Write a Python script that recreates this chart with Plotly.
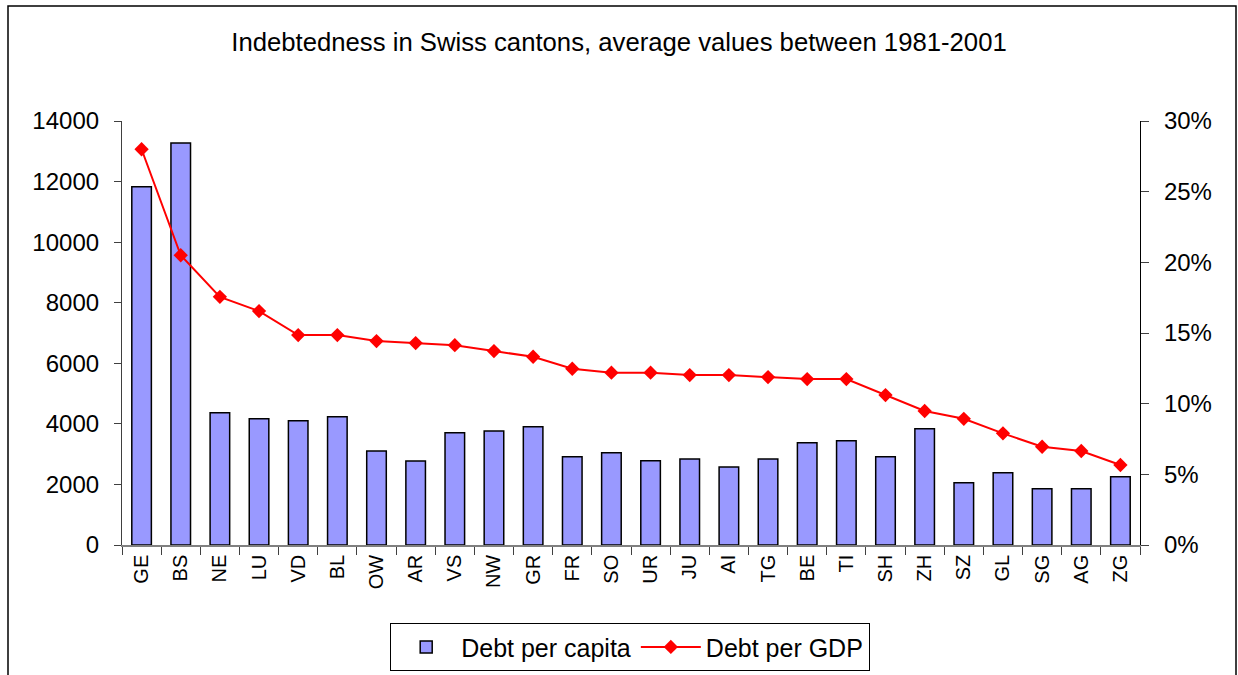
import plotly.graph_objects as go

cantons = ["GE", "BS", "NE", "LU", "VD", "BL", "OW", "AR", "VS", "NW", "GR", "FR", "SO",
           "UR", "JU", "AI", "TG", "BE", "TI", "SH", "ZH", "SZ", "GL", "SG", "AG", "ZG"]
debt_per_capita = [11825, 13277, 4366, 4168, 4102, 4234, 3102, 2772, 3706, 3762, 3904, 2914, 3046,
                   2782, 2838, 2574, 2838, 3376, 3442, 2914, 3838, 2056, 2386, 1858, 1858, 2254]
debt_per_gdp = [0.280, 0.205, 0.1756, 0.1655, 0.1485, 0.1485, 0.1443, 0.1429, 0.1414, 0.1372,
                0.1332, 0.1247, 0.1219, 0.1219, 0.1202, 0.1202, 0.1188, 0.1174, 0.1174, 0.1061,
                0.0948, 0.0893, 0.079, 0.0695, 0.0665, 0.0566]

title_text = "Indebtedness in Swiss cantons, average values between 1981-2001"
FONT = "Liberation Sans, Arial, sans-serif"

# plot area in pixels
L, R, T, B = 122, 1140, 121, 545
W, H = 1238, 675

fig = go.Figure()
fig.add_trace(go.Bar(
    x=cantons, y=debt_per_capita, name="Debt per capita",
    marker=dict(color="#9999FF", line=dict(color="#000000", width=1.5)),
    yaxis="y",
))
fig.add_trace(go.Scatter(
    x=cantons, y=debt_per_gdp, name="Debt per GDP", mode="lines+markers",
    line=dict(color="#FF0000", width=2),
    marker=dict(symbol="diamond", size=11, color="#FF0000"),
    yaxis="y2",
))

def px_x(p):
    return (p - L) / (R - L)

def px_y(q):
    return (B - q) / (B - T)

fig.update_layout(
    width=W, height=H,
    margin=dict(l=L, r=W - R, t=T, b=H - B, autoexpand=False),
    paper_bgcolor="white", plot_bgcolor="white",
    font=dict(family=FONT, size=22, color="black"),
    title=dict(text=title_text, x=0.5, xanchor="center", y=1 - 42 / H, yanchor="middle",
               font=dict(family=FONT, size=25.7, color="black")),
    bargap=0.5,
    showlegend=True,
    legend=dict(orientation="h", x=px_x(630), xanchor="center", y=px_y(623), yanchor="top",
                bordercolor="#000000", borderwidth=1.2, bgcolor="white",
                font=dict(family=FONT, size=25, color="black"),
                itemwidth=60, tracegroupgap=0),
    xaxis=dict(
        range=[-0.5, len(cantons) - 0.5], autorange=False,
        showline=True, linecolor="#808080", linewidth=1.5,
        ticks="outside", tickson="boundaries", ticklen=8, tickcolor="#404040",
        tickangle=-90, tickfont=dict(family=FONT, size=20, color="black"),
        showgrid=False, zeroline=False,
    ),
    yaxis=dict(
        range=[0, 14000], dtick=2000, tick0=0, tickformat="d",
        showline=True, linecolor="#404040", linewidth=1.2,
        ticks="outside", ticklen=7, tickcolor="#404040",
        tickfont=dict(family=FONT, size=24, color="black"),
        ticklabelstandoff=10,
        showgrid=False, zeroline=False,
    ),
    yaxis2=dict(
        range=[0, 0.30], dtick=0.05, tick0=0, tickformat=".0%",
        overlaying="y", side="right", anchor="x",
        showline=True, linecolor="#000000", linewidth=1.2,
        ticks="outside", ticklen=8, tickcolor="#404040",
        tickfont=dict(family=FONT, size=24, color="black"),
        ticklabelstandoff=10,
        showgrid=False, zeroline=False,
    ),
    shapes=[dict(type="rect", xref="paper", yref="paper",
                 x0=px_x(8), x1=px_x(1236), y0=px_y(700), y1=px_y(6),
                 line=dict(color="#000000", width=1.5), fillcolor="rgba(0,0,0,0)", layer="below")],
)

fig.write_html("out.html", config={"displayModeBar": False},
               post_script="document.body.style.margin='0px';document.body.style.overflow='hidden';")
